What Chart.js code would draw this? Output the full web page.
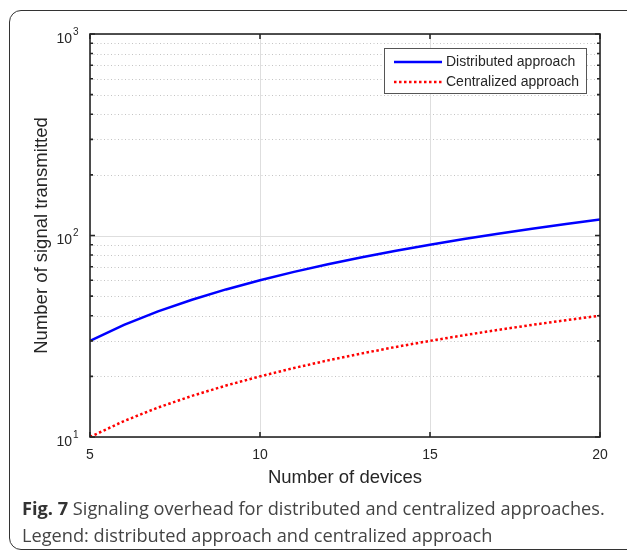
<!DOCTYPE html>
<html>
<head>
<meta charset="utf-8">
<script src="https://cdn.jsdelivr.net/npm/chart.js@4/dist/chart.umd.min.js"></script>
<style>
  html, body { margin: 0; padding: 0; background: #fff; overflow: hidden; width: 627px; height: 554px; }
  #wrap { position: relative; width: 627px; height: 554px; }
  #frame { position: absolute; left: 9px; top: 10px; width: 630px; height: 540px; border: 1.5px solid #333; border-radius: 12px; box-sizing: border-box; }
  canvas { position: absolute; left: 0; top: 0; }
  #caption { position: absolute; left: 22px; top: 495px; font-family: "Open Sans", sans-serif; font-size: 18.2px; line-height: 27px; color: #444; white-space: nowrap; }
  #caption b { font-weight: 700; color: #333; }
</style>
</head>
<body>
<div id="wrap">
  <div id="frame"></div>
  <canvas id="c" width="627" height="554"></canvas>
  <div id="caption"><b>Fig. 7</b> Signaling overhead for distributed and centralized approaches.<br>Legend: distributed approach and centralized approach</div>
</div>
<script>
// ---- data ----
const devices = [5, 6, 7, 8, 9, 10, 11, 12, 13, 14, 15, 16, 17, 18, 19, 20];
const distributed = [30, 36, 42, 48, 54, 60, 66, 72, 78, 84, 90, 96, 102, 108, 114, 120];
const centralized = [10, 12, 14, 16, 18, 20, 22, 24, 26, 28, 30, 32, 34, 36, 38, 40];
const seriesNames = ["Distributed approach", "Centralized approach"];
const xTicks = [5, 10, 15, 20];
const yMajorTicks = [10, 100, 1000];
const yMinorTicks = [20, 30, 40, 50, 60, 70, 80, 90, 200, 300, 400, 500, 600, 700, 800, 900];
const xLabel = "Number of devices";
const yLabel = "Number of signal transmitted";

const axisColor = '#262626';

const customPlugin = {
  id: 'matlabStyle',
  beforeDatasetsDraw(chart) {
    const ctx = chart.ctx, a = chart.chartArea;
    const xs = chart.scales.x, ys = chart.scales.y;
    ctx.save();
    // minor dotted y grid
    ctx.strokeStyle = '#c4c4c4';
    ctx.lineWidth = 1;
    ctx.setLineDash([1, 2.5]);
    yMinorTicks.forEach(v => {
      const y = Math.round(ys.getPixelForValue(v)) + 0.5;
      ctx.beginPath(); ctx.moveTo(a.left, y); ctx.lineTo(a.right, y); ctx.stroke();
    });
    // major solid grid
    ctx.setLineDash([]);
    ctx.strokeStyle = '#dedede';
    yMajorTicks.forEach(v => {
      const y = Math.round(ys.getPixelForValue(v)) + 0.5;
      ctx.beginPath(); ctx.moveTo(a.left, y); ctx.lineTo(a.right, y); ctx.stroke();
    });
    xTicks.forEach(v => {
      const x = Math.round(xs.getPixelForValue(v)) + 0.5;
      ctx.beginPath(); ctx.moveTo(x, a.top); ctx.lineTo(x, a.bottom); ctx.stroke();
    });
    ctx.restore();
  },
  afterDraw(chart) {
    const ctx = chart.ctx, a = chart.chartArea;
    const xs = chart.scales.x, ys = chart.scales.y;
    ctx.save();
    // axes box
    ctx.strokeStyle = axisColor;
    ctx.lineWidth = 1.6;
    ctx.strokeRect(a.left, a.top, a.right - a.left, a.bottom - a.top);
    // ticks
    xTicks.forEach(v => {
      const x = xs.getPixelForValue(v);
      ctx.beginPath();
      ctx.moveTo(x, a.bottom); ctx.lineTo(x, a.bottom - 5);
      ctx.moveTo(x, a.top); ctx.lineTo(x, a.top + 5);
      ctx.stroke();
    });
    yMajorTicks.forEach(v => {
      const y = ys.getPixelForValue(v);
      ctx.beginPath();
      ctx.moveTo(a.left, y); ctx.lineTo(a.left + 5, y);
      ctx.moveTo(a.right, y); ctx.lineTo(a.right - 5, y);
      ctx.stroke();
    });
    yMinorTicks.forEach(v => {
      const y = ys.getPixelForValue(v);
      ctx.beginPath();
      ctx.moveTo(a.left, y); ctx.lineTo(a.left + 3, y);
      ctx.moveTo(a.right, y); ctx.lineTo(a.right - 3, y);
      ctx.stroke();
    });
    // y tick labels with superscripts
    ctx.fillStyle = axisColor;
    ctx.textBaseline = 'middle';
    yMajorTicks.forEach(v => {
      const y = ys.getPixelForValue(v);
      const exp = String(Math.round(Math.log10(v)));
      ctx.font = '14px "Liberation Sans", Arial, sans-serif';
      ctx.textAlign = 'right';
      ctx.fillText('10', 72, y + 5);
      ctx.font = '10px "Liberation Sans", Arial, sans-serif';
      ctx.textAlign = 'left';
      ctx.fillText(exp, 73, y - 2);
    });
    // axis titles
    ctx.font = '18.5px "Liberation Sans", Arial, sans-serif';
    ctx.textAlign = 'center';
    ctx.fillText(xLabel, (a.left + a.right) / 2, 478);
    ctx.save();
    ctx.translate(42, (a.top + a.bottom) / 2);
    ctx.rotate(-Math.PI / 2);
    ctx.fillText(yLabel, 0, 0);
    ctx.restore();
    // legend
    const lx = 384, ly = 48, lw = 202, lh = 45;
    ctx.fillStyle = '#fff';
    ctx.fillRect(lx, ly, lw, lh);
    ctx.strokeStyle = '#555';
    ctx.lineWidth = 1;
    ctx.strokeRect(lx + 0.5, ly + 0.5, lw, lh);
    const dsets = chart.data.datasets;
    ctx.font = '14px "Liberation Sans", Arial, sans-serif';
    ctx.textAlign = 'left';
    ctx.textBaseline = 'middle';
    dsets.forEach((ds, i) => {
      const yy = ly + 14 + i * 20;
      ctx.strokeStyle = ds.borderColor;
      ctx.lineWidth = ds.borderWidth;
      ctx.setLineDash(ds.borderDash || []);
      ctx.beginPath(); ctx.moveTo(lx + 10, yy); ctx.lineTo(lx + 58, yy); ctx.stroke();
      ctx.setLineDash([]);
      ctx.fillStyle = axisColor;
      ctx.fillText(ds.label, lx + 62, yy);
    });
    ctx.restore();
  }
};

new Chart(document.getElementById('c'), {
  type: 'line',
  data: {
    datasets: [
      {
        label: seriesNames[0],
        data: devices.map((d, i) => ({ x: d, y: distributed[i] })),
        borderColor: '#0000ff',
        borderWidth: 2.5,
        pointRadius: 0,
        fill: false,
        tension: 0
      },
      {
        label: seriesNames[1],
        data: devices.map((d, i) => ({ x: d, y: centralized[i] })),
        borderColor: '#ff0000',
        borderWidth: 2.5,
        borderDash: [2.5, 2.5],
        pointRadius: 0,
        fill: false,
        tension: 0
      }
    ]
  },
  options: {
    responsive: false,
    animation: false,
    devicePixelRatio: 1,
    layout: { padding: { top: 34, right: 27, left: 0, bottom: 0 } },
    plugins: { legend: { display: false }, tooltip: { enabled: false } },
    scales: {
      x: {
        type: 'linear',
        min: 5, max: 20,
        afterBuildTicks: s => { s.ticks = xTicks.map(v => ({ value: v })); },
        afterFit: s => { s.height = 117; },
        grid: { display: false, drawTicks: false },
        border: { display: false },
        ticks: { padding: 10, color: axisColor, font: { family: '"Liberation Sans", Arial, sans-serif', size: 14 } }
      },
      y: {
        type: 'logarithmic',
        min: 10, max: 1000,
        afterFit: s => { s.width = 90; },
        grid: { display: false, drawTicks: false },
        border: { display: false },
        ticks: { display: false }
      }
    }
  },
  plugins: [customPlugin]
});
</script>
</body>
</html>
